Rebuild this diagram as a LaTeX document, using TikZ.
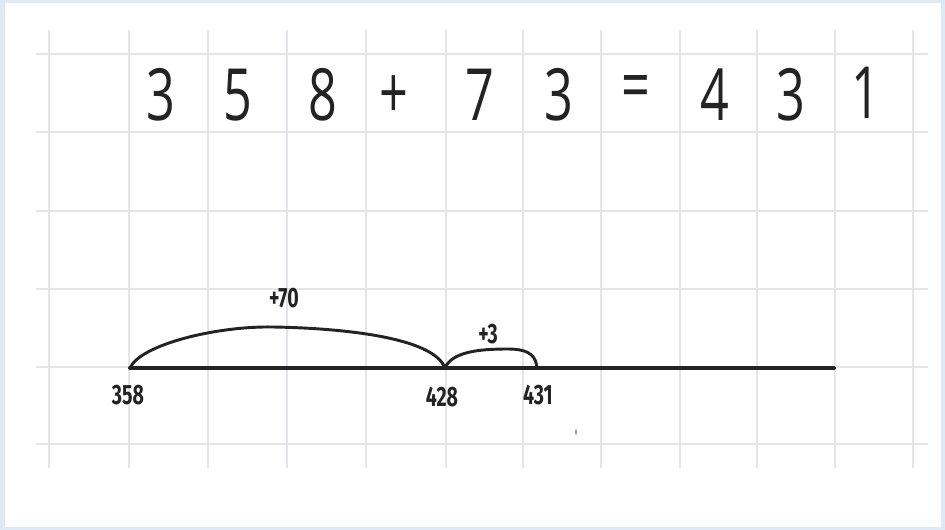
\documentclass[tikz,border=0pt]{standalone}
\usepackage{fontspec}
\setmainfont{Open Sans}
\newfontfamily\labfont{Fira Sans}
\definecolor{frame}{RGB}{222,233,246}
\definecolor{gridc}{RGB}{228,228,234}
\definecolor{ink}{RGB}{35,35,35}
\tikzset{
  gridline/.style={draw=gridc, line width=2.2pt},
  digit/.style={inner sep=0pt, text=ink, font=\fontsize{54}{54}\selectfont},
  lab/.style={inner sep=0pt, text=ink, font=\labfont\bfseries\fontsize{21}{21}\selectfont},
  jump/.style={draw=ink, line width=2.2pt, line cap=round},
  axis/.style={draw=ink, line width=3pt, line cap=round}
}
\newcommand{\nar}[1]{\scalebox{0.7}[1]{#1}}
\begin{document}
\begin{tikzpicture}[x=0.75pt,y=-0.75pt]
\useasboundingbox (0,0) rectangle (945,530);
\fill[frame] (0,0) rectangle (945,530);
\fill[white] (5,3) rectangle (941,527);
% grid
\foreach \gx in {49,129,208,287,366,446,523,601,680,757,835,913}
  \draw[gridline] (\gx,30) -- (\gx,468);
\foreach \gy in {54,132,211,289,367,444}
  \draw[gridline] (36,\gy) -- (928,\gy);
% equation
\node[digit] (d1) at (161,95) {\nar{3}};
\node[digit] (d2) at (238,95) {\nar{5}};
\node[digit] (d3) at (323,95) {\nar{8}};
\node[digit] (d4) at (394,97) {\nar{+}};
\node[digit] (d5) at (480,95) {\nar{7}};
\node[digit] (d6) at (559,95) {\nar{3}};
\node[digit] (d7) at (636,93) {\nar{=}};
\node[digit] (d8) at (715,95) {\nar{4}};
\node[digit] (d9) at (791,95) {\nar{3}};
\node[digit] (d10) at (866,93) {\nar{1}};
% number line
\coordinate (a) at (130,368);
\coordinate (b) at (445,368);
\coordinate (c) at (537,368);
\coordinate (e) at (834,368);
\draw[axis] (a) -- (e);
\draw[jump] (a) .. controls (140,345) and (215,326) .. (273,327)
  .. controls (335,328) and (433,336) .. (b);
\draw[jump] (b) .. controls (452,352) and (478,349) .. (508,349)
  .. controls (532,349) and (536,358) .. (c);
% labels
\node[lab] (l358) at (128,395) {\nar{358}};
\node[lab] (l428) at (442,397) {\nar{428}};
\node[lab] (l431) at (538,395) {\nar{431}};
\node[lab] (l70) at (284,298) {\nar{+70}};
\node[lab] (l3) at (488,334) {\nar{+3}};
\fill[gray!70] (576,432) ellipse (1.2 and 3);
\end{tikzpicture}
\end{document}
